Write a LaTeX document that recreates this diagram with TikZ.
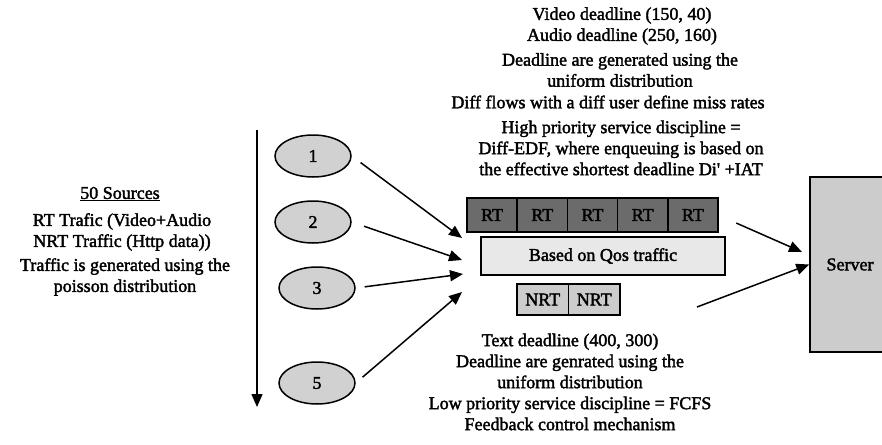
\documentclass[tikz,border=0pt]{standalone}
\usepackage{fontspec}
\setmainfont{Liberation Serif}
\newfontfamily\diagfont{Liberation Serif}[FakeBold=2]
\usetikzlibrary{shapes.geometric,arrows.meta,positioning}

\begin{document}
\begin{tikzpicture}[x=1pt, y=-1pt, >={Triangle[length=13pt,width=11pt]}, line width=1.5pt,
    txt/.style={align=center, inner sep=0pt, font=\diagfont\fontsize{18}{21}\selectfont},
    source/.style={ellipse, draw=black, fill=black!18, line width=1.5pt, minimum width=76pt, minimum height=42pt, font=\diagfont\fontsize{18}{21}\selectfont},
    cell/.style={rectangle, draw=black, line width=1.5pt, outer sep=0pt, inner sep=0pt, font=\diagfont\fontsize{18}{21}\selectfont},
    rtcell/.style={cell, fill=black!58, minimum width=50.2pt, minimum height=34pt},
    nrtcell/.style={cell, fill=black!20, minimum width=51.5pt, minimum height=31pt}]
    \useasboundingbox (0,0) rectangle (882,444);
    \clip (0,0) rectangle (882,444);

    % text of the high priority queue
    \node[txt] (vid) at (622,26) {Video deadline (150, 40)\\Audio deadline (250, 160)};
    \node[txt] (gen) at (620,70) {Deadline are generated using the\\uniform distribution};
    \node[txt] (miss) at (608,102) {Diff flows with a diff user define miss rates};
    \node[txt] (high) at (621,148) {High priority service discipline =\\Diff-EDF, where enqueuing is based on\\the effective shortest deadline Di\textquotesingle{} +IAT};

    % sources
    \node[txt] (num) at (120,194) {\underline{50 Sources}};
    \node[txt] (kind) at (122,232) {RT Trafic (Video+Audio\\NRT Traffic (Http data))};
    \node[txt] (pois) at (125,277) {Traffic is generated using the\\poisson distribution};
    \node[source] (s1) at (313,156) {1};
    \node[source] (s2) at (313,222) {2};
    \node[source] (s3) at (317,288) {3};
    \node[source] (s5) at (317,383) {5};
    \coordinate (top) at (257,130);
    \coordinate (bot) at (257,407);
    \draw[->] (top) -- (bot);

    % queues
    \foreach \i in {1,...,5}
        \node[rtcell] (rt\i) at (467-25.1+50.2*\i,215) {RT};
    \node[cell, fill=black!9, minimum width=244pt, minimum height=38pt] (qos) at (603,256) {Based on Qos traffic};
    \node[nrtcell] (nrt1) at (542.75,299.5) {NRT};
    \node[nrtcell] (nrt2) [right=0pt of nrt1] {NRT};

    % text of the low priority queue
    \node[txt] (low) at (570,382) {Text deadline (400, 300)\\Deadline are genrated using the\\uniform distribution\\Low priority service discipline = FCFS\\Feedback control mechanism};

    \node[rectangle, draw=black, fill=black!20, line width=1.5pt, minimum width=80pt, minimum height=175pt, font=\diagfont\fontsize{18}{21}\selectfont] (server) at (850,264.5) {Server};

    \coordinate (in1) at (462,238);
    \coordinate (in2) at (462,260);
    \coordinate (in3) at (463,274);
    \coordinate (in5) at (462,292);
    \coordinate (out1) at (802,252);
    \coordinate (fb) at (697,307);

    \path (s1.east) edge[->, shorten <=11pt] (in1)
        (s2.east) edge[->, shorten <=13pt] (in2)
        (s3.east) edge[->, shorten <=9pt] (in3)
        (s5.east) edge[->, shorten <=9pt] (in5)
        (rt5.east) edge[->, shorten <=20pt] (out1)
        (fb) edge[->] (server.west);
\end{tikzpicture}
\end{document}
